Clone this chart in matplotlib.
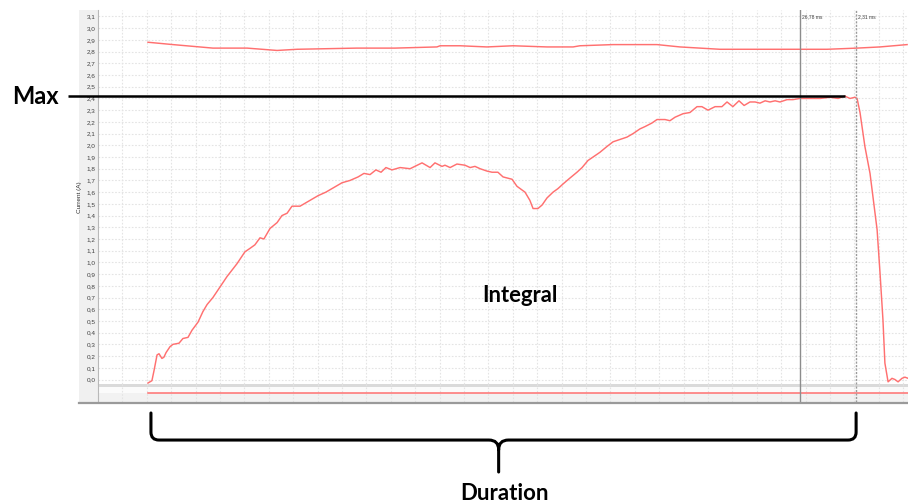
import numpy as np
import matplotlib
matplotlib.use("Agg")
import matplotlib.pyplot as plt
from matplotlib.path import Path
from matplotlib.patches import PathPatch
from matplotlib.lines import Line2D

# ---------------- data (time in grid units / ms, current in A) ----------------
t_main = [2.05, 2.21, 2.30, 2.42, 2.50, 2.62, 2.70, 2.79, 2.95, 3.07, 3.32, 3.48, 3.69, 3.85,
          4.10, 4.30, 4.47, 4.71, 5.00, 5.29, 5.70, 6.02, 6.23, 6.43, 6.64, 6.80, 7.05, 7.34,
          7.54, 7.75, 7.95, 8.28, 8.69, 9.02, 9.34, 9.67, 10.00, 10.33, 10.66, 10.90, 11.15,
          11.39, 11.60, 11.80, 12.05, 12.38, 12.79, 13.28, 13.61, 13.81, 14.10, 14.22, 14.43,
          14.71, 15.04, 15.25, 15.45, 15.66, 15.94, 16.15, 16.39, 16.60, 16.97, 17.17, 17.50,
          17.70, 17.83, 18.03, 18.20, 18.40, 18.65, 18.85, 19.06, 19.34, 19.63, 19.84, 20.08,
          20.29, 20.57, 20.86, 21.11, 21.39, 21.68, 21.93, 22.21, 22.42, 22.70, 22.91, 23.24,
          23.44, 23.65, 23.98, 24.26, 24.55, 24.75, 25.00, 25.29, 25.57, 25.78, 26.02, 26.27,
          26.48, 26.72, 26.93, 27.13, 27.34, 27.54, 27.75, 27.95, 28.24, 28.48, 28.77, 29.18,
          29.59, 30.00, 30.33, 30.61, 30.82, 31.02, 31.11, 31.23, 31.43, 31.64, 31.76, 31.93,
          32.05, 32.17, 32.25, 32.38, 32.54, 32.66, 32.79, 32.95, 33.07, 33.20]
i_main = [-0.03, -0.01, 0.08, 0.21, 0.22, 0.18, 0.19, 0.23, 0.28, 0.30, 0.31, 0.35, 0.36, 0.42,
          0.49, 0.58, 0.64, 0.70, 0.79, 0.88, 0.99, 1.09, 1.12, 1.15, 1.21, 1.20, 1.29, 1.34,
          1.40, 1.42, 1.48, 1.48, 1.53, 1.57, 1.60, 1.64, 1.68, 1.70, 1.73, 1.76, 1.75,
          1.79, 1.77, 1.81, 1.79, 1.81, 1.80, 1.85, 1.81, 1.85, 1.82, 1.83, 1.81,
          1.84, 1.83, 1.81, 1.82, 1.80, 1.78, 1.77, 1.77, 1.73, 1.71, 1.65, 1.60,
          1.53, 1.46, 1.46, 1.49, 1.55, 1.60, 1.63, 1.67, 1.72, 1.77, 1.81, 1.87,
          1.90, 1.94, 1.99, 2.03, 2.05, 2.07, 2.10, 2.14, 2.16, 2.19, 2.22, 2.22,
          2.21, 2.24, 2.27, 2.28, 2.33, 2.33, 2.30, 2.33, 2.33, 2.37, 2.33, 2.38,
          2.34, 2.37, 2.37, 2.36, 2.38, 2.37, 2.38, 2.37, 2.39, 2.39, 2.40, 2.40,
          2.40, 2.41, 2.40, 2.42, 2.40, 2.41, 2.40, 2.28, 1.99, 1.76, 1.56, 1.28,
          0.91, 0.51, 0.14, -0.02, 0.01, 0.00, -0.02, 0.01, 0.02, 0.01]

t_ref = [2.05, 3.07, 4.71, 6.11, 7.34, 8.16, 10.61, 12.17, 13.89, 14.02, 14.84, 15.94, 17.01,
         18.40, 19.47, 19.75, 21.11, 22.91, 23.85, 24.67, 25.49, 27.95, 29.88, 31.11, 32.05, 33.16]
i_ref = [2.88, 2.86, 2.83, 2.83, 2.81, 2.82, 2.83, 2.83, 2.84, 2.85, 2.85, 2.84, 2.85,
         2.84, 2.84, 2.85, 2.86, 2.86, 2.84, 2.83, 2.82, 2.82, 2.82, 2.83, 2.84, 2.86]

y_ticks = [round(0.1 * k, 1) for k in range(32)]
y_tick_labels = [f"{v:.1f}".replace(".", ",") for v in y_ticks]

cursor_t = 28.77
cursor2_t = 31.07
cursor_labels = ["26,78 ms", "2,31 ms"]

# ---------------- layout helpers ----------------
W, H = 908, 503
def rect(x0, y0, x1, y1):
    return [x0 / W, 1 - y1 / H, (x1 - x0) / W, (y1 - y0) / H]

PX_PER_T = 24.4
PX_PER_A = 117.1
XMAX = (908 - 98) / PX_PER_T
YBOT = (379.5 - 384) / PX_PER_A
YTOP = (379.5 - 10) / PX_PER_A

red = "#ff7070"
grid_c = "#e4e4e4"
small_font = "Liberation Sans"
big_font = "Lato"

fig = plt.figure(figsize=(W / 100, H / 100), dpi=100)
fig.patch.set_facecolor("white")

# left grey panel
ax_left = fig.add_axes(rect(79, 10, 98, 402))
ax_left.set_facecolor("#f0f0f0")
ax_left.set_xticks([]); ax_left.set_yticks([])
for s in ax_left.spines.values():
    s.set_visible(False)

# bottom strip
ax_strip = fig.add_axes(rect(98, 384, 908, 402))
ax_strip.set_xlim(0, XMAX)
ax_strip.set_ylim(18, 0)
ax_strip.set_facecolor("#f2f2f2")
ax_strip.axhspan(0, 3, color="#dadada", lw=0)
ax_strip.axhspan(3, 8.5, color="#fbfbfb", lw=0)
for k in range(1, 34):
    ax_strip.axvline(k, color=grid_c, lw=0.8, ls=(0, (1.5, 1.5)), zorder=1)
ax_strip.plot([t_main[0], XMAX], [9, 9], color=red, lw=1.1, zorder=3)
ax_strip.axvline(cursor_t, color="#8c8c8c", lw=1.0, zorder=4)
ax_strip.axvline(cursor2_t, color="#9a9a9a", lw=1.0, ls=(0, (1.5, 1.0)), zorder=4)
ax_strip.set_xticks([]); ax_strip.set_yticks([])
for s in ax_strip.spines.values():
    s.set_visible(False)
ax_strip.spines["left"].set_visible(True)
ax_strip.spines["left"].set_color("#b8b8b8")

# main axes
ax = fig.add_axes(rect(98, 10, 908, 384))
ax.set_xlim(0, XMAX)
ax.set_ylim(YBOT, YTOP)
ax.set_facecolor("white")
for s in ax.spines.values():
    s.set_visible(False)
ax.spines["left"].set_visible(True)
ax.spines["left"].set_color("#b8b8b8")
ax.set_xticks([])
ax.set_yticks(y_ticks)
ax.set_yticklabels(y_tick_labels, fontsize=4.6, color="#404040", family=small_font)
ax.tick_params(axis="y", length=0, pad=1.6)
for v in y_ticks:
    ax.axhline(v, color=grid_c, lw=0.8, ls=(0, (1.5, 1.5)), zorder=1)
for k in range(1, 34):
    ax.axvline(k, color=grid_c, lw=0.8, ls=(0, (1.5, 1.5)), zorder=1)
ax.set_ylabel("Current (A)", fontsize=4.6, family=small_font, color="#303030")
ax.yaxis.set_label_coords((82 - 98) / 810, (384 - 197) / 374)

ax.plot(t_ref, i_ref, color=red, lw=1.05, zorder=3)
ax.plot(t_main, i_main, color=red, lw=1.05, zorder=3)

ax.axvline(cursor_t, color="#8c8c8c", lw=1.0, zorder=4)
ax.axvline(cursor2_t, color="#9a9a9a", lw=1.0, ls=(0, (1.5, 1.0)), zorder=4)
ax.text(cursor_t + 0.08, YTOP - 0.04, cursor_labels[0], fontsize=3.6, family=small_font,
        color="#404040", va="top", ha="left")
ax.text(cursor2_t + 0.08, YTOP - 0.04, cursor_labels[1], fontsize=3.6, family=small_font,
        color="#404040", va="top", ha="left")

# bottom border line
fig.add_artist(Line2D([79 / W, 1.0], [1 - 402.5 / H, 1 - 402.5 / H], transform=fig.transFigure,
                      color="#9a9a9a", lw=1.6))

# ---------------- annotations ----------------
imax = int(np.argmax(i_main))
vmax = i_main[imax]
ax.plot([-30 / PX_PER_T, t_main[imax]], [vmax, vmax], color="black", lw=1.8,
        clip_on=False, zorder=5, solid_capstyle="butt")
fig.text(12 / W, 1 - 97 / H, "Max", fontsize=17, fontweight="bold", family=big_font,
         va="center", ha="left")

ax.text(17.3, 0.72, "Integral", fontsize=15.8, fontweight="bold", family=big_font,
        ha="center", va="center")

# duration brace
x0 = t_main[0] + 0.12
x1 = cursor2_t
xc = (x0 + x1) / 2 - 0.2
ytop, yh, ystem, ytip = -0.286, -0.517, -0.60, -0.79
rx, ry = 0.33, 0.068
verts = [(x0, ytop), (x0, yh + ry), (x0, yh), (x0 + rx, yh), (xc - 0.4, yh), (xc, yh), (xc, ystem),
         (xc, ytip),
         (xc, ystem), (xc, yh), (xc + 0.4, yh), (x1 - rx, yh), (x1, yh), (x1, yh + ry), (x1, ytop)]
codes = [Path.MOVETO, Path.LINETO, Path.CURVE3, Path.CURVE3, Path.LINETO, Path.CURVE3, Path.CURVE3,
         Path.LINETO,
         Path.MOVETO, Path.CURVE3, Path.CURVE3, Path.LINETO, Path.CURVE3, Path.CURVE3, Path.LINETO]
ax.add_patch(PathPatch(Path(verts, codes), fill=False, lw=2.2, color="black",
                       clip_on=False, zorder=5, capstyle="round"))
fig.text(504 / W, 1 - 493 / H, "Duration", fontsize=16, fontweight="bold", family=big_font,
         ha="center", va="center")

fig.savefig("out.png", dpi=100)
